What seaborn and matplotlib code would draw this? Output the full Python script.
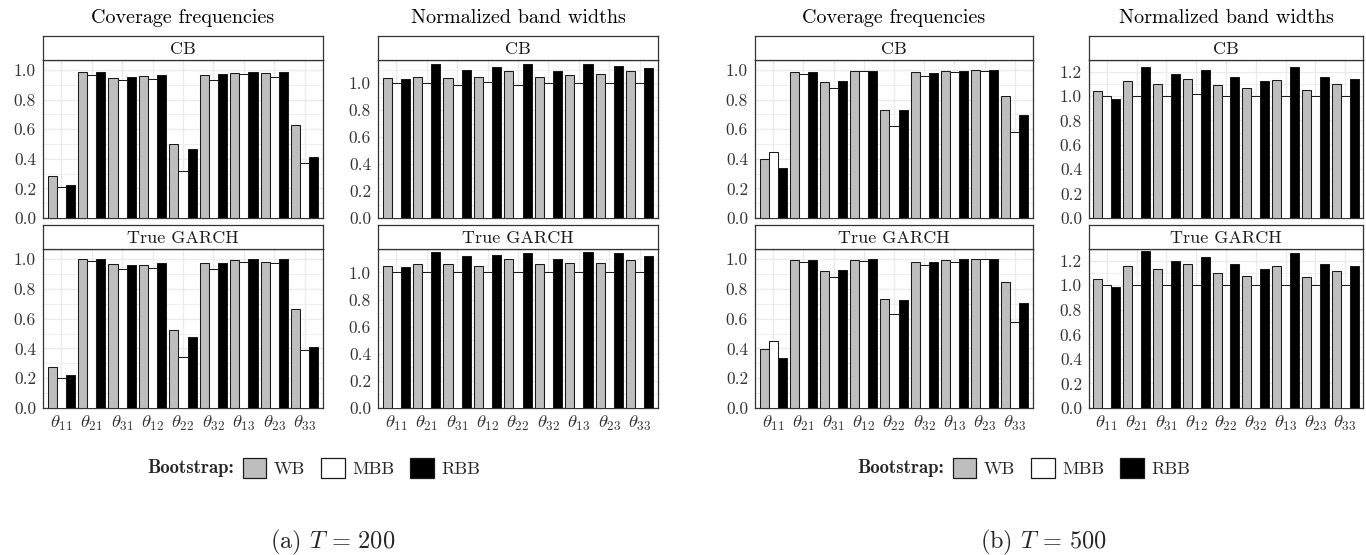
import numpy as np
import pandas as pd
import matplotlib
matplotlib.use("Agg")
import matplotlib.pyplot as plt
import seaborn as sns
from matplotlib.patches import Patch

sns.set_style("white")
plt.rcParams["font.family"] = ["cmr10", "DejaVu Serif"]
plt.rcParams["mathtext.fontset"] = "cm"
plt.rcParams["axes.formatter.use_mathtext"] = True

# ---------------- data ----------------
params = [r"$\theta_{11}$", r"$\theta_{21}$", r"$\theta_{31}$", r"$\theta_{12}$", r"$\theta_{22}$",
          r"$\theta_{32}$", r"$\theta_{13}$", r"$\theta_{23}$", r"$\theta_{33}$"]
methods = ["WB", "MBB", "RBB"]

# T = 200, coverage frequencies
cov200_cb_wb = [0.281, 0.984, 0.946, 0.957, 0.499, 0.969, 0.982, 0.982, 0.627]
cov200_cb_mbb = [0.207, 0.969, 0.930, 0.939, 0.315, 0.935, 0.971, 0.955, 0.371]
cov200_cb_rbb = [0.225, 0.989, 0.955, 0.966, 0.467, 0.973, 0.987, 0.989, 0.409]
cov200_tg_wb = [0.278, 0.998, 0.966, 0.962, 0.524, 0.975, 0.991, 0.984, 0.668]
cov200_tg_mbb = [0.203, 0.989, 0.935, 0.939, 0.341, 0.937, 0.984, 0.975, 0.391]
cov200_tg_rbb = [0.221, 1.000, 0.959, 0.977, 0.476, 0.977, 0.998, 0.998, 0.413]
# T = 200, normalized band widths
nbw200_cb_wb = [1.04, 1.05, 1.04, 1.05, 1.09, 1.05, 1.06, 1.07, 1.09]
nbw200_cb_mbb = [1.00, 1.00, 0.99, 1.01, 0.99, 1.00, 1.00, 1.00, 1.00]
nbw200_cb_rbb = [1.03, 1.14, 1.10, 1.12, 1.14, 1.09, 1.14, 1.13, 1.11]
nbw200_tg_wb = [1.05, 1.06, 1.06, 1.05, 1.10, 1.06, 1.07, 1.07, 1.09]
nbw200_tg_mbb = [1.00, 1.00, 1.00, 1.00, 1.00, 1.00, 1.00, 1.00, 1.00]
nbw200_tg_rbb = [1.04, 1.15, 1.12, 1.13, 1.14, 1.10, 1.15, 1.14, 1.12]
# T = 500, coverage frequencies
cov500_cb_wb = [0.400, 0.987, 0.919, 0.993, 0.730, 0.984, 0.993, 0.998, 0.827]
cov500_cb_mbb = [0.445, 0.973, 0.876, 0.993, 0.622, 0.962, 0.984, 0.996, 0.580]
cov500_cb_rbb = [0.337, 0.989, 0.926, 0.993, 0.730, 0.978, 0.991, 0.998, 0.699]
cov500_tg_wb = [0.395, 0.991, 0.921, 0.995, 0.729, 0.984, 0.995, 1.000, 0.847]
cov500_tg_mbb = [0.447, 0.980, 0.880, 0.989, 0.632, 0.962, 0.984, 1.000, 0.576]
cov500_tg_rbb = [0.334, 0.991, 0.930, 0.998, 0.727, 0.980, 0.998, 1.000, 0.707]
# T = 500, normalized band widths
nbw500_cb_wb = [1.04, 1.12, 1.10, 1.14, 1.09, 1.07, 1.13, 1.05, 1.10]
nbw500_cb_mbb = [1.00, 1.00, 1.00, 1.02, 1.00, 1.00, 1.00, 1.00, 1.00]
nbw500_cb_rbb = [0.98, 1.24, 1.18, 1.21, 1.16, 1.12, 1.24, 1.16, 1.14]
nbw500_tg_wb = [1.05, 1.16, 1.13, 1.17, 1.10, 1.08, 1.16, 1.07, 1.12]
nbw500_tg_mbb = [1.00, 1.00, 1.00, 1.00, 1.00, 1.00, 1.00, 1.00, 1.00]
nbw500_tg_rbb = [0.99, 1.28, 1.20, 1.23, 1.17, 1.13, 1.26, 1.17, 1.16]

strip_labels = ["CB", "True GARCH"]
col_titles = ["Coverage frequencies", "Normalized band widths"]
captions = [r"(a) $T\,=\,200$", r"(b) $T\,=\,500$"]

# ---------------- style ----------------
palette = {"WB": "#BEBEBE", "MBB": "#FFFFFF", "RBB": "#000000"}
W, H = 1366, 555
fig = plt.figure(figsize=(W / 100, H / 100), dpi=100)
fig.patch.set_facecolor("white")

DARK = "#333333"
GRID = "#EBEBEB"


def rect(x0, x1, y0, y1):
    return [x0 / W, 1 - y1 / H, (x1 - x0) / W, (y1 - y0) / H]


def draw_panel(x0, x1, y0, y1, wb, mbb, rbb, ytop, yticks, show_x, strip):
    ax = fig.add_axes(rect(x0, x1, y0, y1))
    df = pd.DataFrame({
        "param": params * 3,
        "method": np.repeat(methods, len(params)),
        "value": list(wb) + list(mbb) + list(rbb),
    })
    sns.barplot(data=df, x="param", y="value", hue="method", order=params,
                hue_order=methods, palette=palette, width=0.9, gap=0,
                edgecolor="#1A1A1A", linewidth=0.75, errorbar=None,
                legend=False, ax=ax, zorder=3)
    ax.set_xlim(-0.6, len(params) - 0.4)
    ax.set_ylim(0, ytop)
    ax.set_yticks(yticks)
    ax.set_yticklabels([f"{v:.1f}" for v in yticks])
    minor = [v + 0.1 for v in yticks[:-1]]
    if yticks[-1] + 0.1 < ytop:
        minor.append(yticks[-1] + 0.1)
    ax.set_yticks(minor, minor=True)
    ax.grid(True, which="major", color=GRID, linewidth=1.0, zorder=0)
    ax.grid(True, which="minor", axis="y", color=GRID, linewidth=0.6, zorder=0)
    ax.set_axisbelow(True)
    ax.set_xlabel("")
    ax.set_ylabel("")
    for s in ax.spines.values():
        s.set_color(DARK)
        s.set_linewidth(0.9)
    ax.tick_params(axis="both", which="major", length=3, width=0.8, color=DARK,
                   labelsize=12.5, labelcolor="#333333", pad=2)
    ax.tick_params(axis="y", which="minor", length=0)
    ax.tick_params(axis="x", labelsize=13.5, pad=1)
    if not show_x:
        ax.tick_params(axis="x", labelbottom=False)
    sax = fig.add_axes(rect(x0, x1, y0 - 24, y0))
    sax.set_xticks([])
    sax.set_yticks([])
    sax.set_facecolor("white")
    for s in sax.spines.values():
        s.set_color(DARK)
        s.set_linewidth(0.9)
    sax.text(0.5, 0.45, strip, ha="center", va="center", fontsize=13,
             color="#1A1A1A", transform=sax.transAxes)
    return ax


cols = [(43, 323), (378, 658), (755, 1033), (1089, 1363)]
rows = [(60, 218), (249, 408)]

panels = [
    [(cov200_cb_wb, cov200_cb_mbb, cov200_cb_rbb), (cov200_tg_wb, cov200_tg_mbb, cov200_tg_rbb)],
    [(nbw200_cb_wb, nbw200_cb_mbb, nbw200_cb_rbb), (nbw200_tg_wb, nbw200_tg_mbb, nbw200_tg_rbb)],
    [(cov500_cb_wb, cov500_cb_mbb, cov500_cb_rbb), (cov500_tg_wb, cov500_tg_mbb, cov500_tg_rbb)],
    [(nbw500_cb_wb, nbw500_cb_mbb, nbw500_cb_rbb), (nbw500_tg_wb, nbw500_tg_mbb, nbw500_tg_rbb)],
]
ytops = [1.068, 1.173, 1.068, 1.296]
yts = [[0.0, 0.2, 0.4, 0.6, 0.8, 1.0], [0.0, 0.2, 0.4, 0.6, 0.8, 1.0],
       [0.0, 0.2, 0.4, 0.6, 0.8, 1.0], [0.0, 0.2, 0.4, 0.6, 0.8, 1.0, 1.2]]

for c, (x0, x1) in enumerate(cols):
    for r, (y0, y1) in enumerate(rows):
        wb, mbb, rbb = panels[c][r]
        draw_panel(x0, x1, y0, y1, wb, mbb, rbb, ytops[c], yts[c], r == 1, strip_labels[r])
    fig.text((x0 + x1) / 2 / W, 1 - 18 / H, col_titles[c % 2], ha="center", va="center",
             fontsize=14.5, color="black")

# legends
handles = [Patch(facecolor=palette[m], edgecolor="#1A1A1A", linewidth=0.9) for m in methods]
for tx in [243, 953]:
    fig.text((tx - 9) / W, 1 - 468 / H, "Bootstrap:", family="cmb10", fontsize=13.5,
             ha="right", va="center")
    fig.legend(handles, methods, loc="center left", bbox_to_anchor=(tx / W, 1 - 468 / H),
               ncol=3, frameon=False, borderpad=0, borderaxespad=0, handlelength=1.3,
               handleheight=1.25, handletextpad=0.4, columnspacing=0.9, fontsize=13)

# captions
for cx, cap in zip([333, 1043], captions):
    fig.text(cx / W, 1 - 542 / H, cap, ha="center", va="center", fontsize=17.5)

fig.savefig("out.png", dpi=100, facecolor="white")
